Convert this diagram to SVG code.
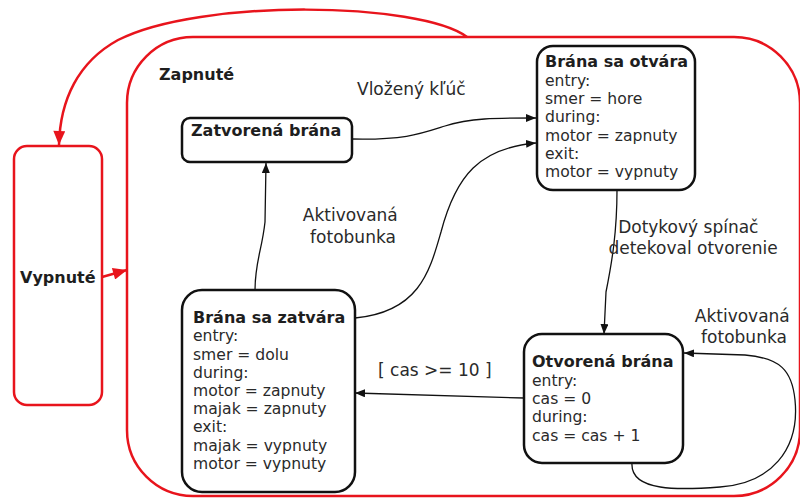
<svg xmlns="http://www.w3.org/2000/svg" width="800" height="498" viewBox="0 0 800 498">
  <defs>
    <marker id="arrow" viewBox="0 0 10 8" refX="10" refY="4" markerWidth="10" markerHeight="8" markerUnits="userSpaceOnUse" orient="auto">
      <path d="M0,0 L10,4 L0,8 Z" fill="#111"/>
    </marker>
    <marker id="arrowRed" viewBox="0 0 14 12" refX="14" refY="6" markerWidth="16" markerHeight="12" markerUnits="userSpaceOnUse" orient="auto">
      <path d="M0,0 L14,6 L0,12 Z" fill="#e8141c"/>
    </marker>
  </defs>
  <style>
    text { font-family: "DejaVu Sans", Verdana, sans-serif; fill: #2a2a2a; }
    .state { fill: #fff; stroke: #111; stroke-width: 2.5; }
    .super { fill: none; stroke: #e8141c; stroke-width: 2.5; }
    .title { font-weight: bold; font-size: 16px; fill: #1e1e1e; }
    .body { font-size: 15.6px; }
    .label { font-size: 17px; }
    .edge { fill: none; stroke: #111; stroke-width: 1.3; }
    .redEdge { fill: none; stroke: #e8141c; stroke-width: 2.5; }
  </style>

  <rect width="800" height="498" fill="#fff"/>

  <!-- Superstate: Zapnuté -->
  <g id="zapnute">
    <rect class="super" x="127" y="37" width="673" height="459" rx="66" ry="66"/>
    <text class="title" x="159" y="80">Zapnuté</text>
  </g>

  <!-- Superstate: Vypnuté -->
  <g id="vypnute">
    <rect class="super" x="14" y="146" width="88" height="259" rx="13" ry="13"/>
    <text class="title" x="20" y="283">Vypnuté</text>
  </g>

  <g id="zatvorena-brana">
    <rect class="state" x="182" y="118" width="170" height="44" rx="8" ry="8"/>
    <text class="title" x="191" y="136">Zatvorená brána</text>
  </g>

  <g id="brana-sa-otvara">
    <rect class="state" x="537" y="46" width="158" height="144" rx="16" ry="16"/>
    <text class="title" x="545" y="67">Brána sa otvára</text>
    <text class="body" x="545">
      <tspan x="545" y="85.5">entry:</tspan>
      <tspan x="545" y="104">smer = hore</tspan>
      <tspan x="545" y="122">during:</tspan>
      <tspan x="545" y="140.5">motor = zapnuty</tspan>
      <tspan x="545" y="158.5">exit:</tspan>
      <tspan x="545" y="177">motor = vypnuty</tspan>
    </text>
  </g>

  <g id="brana-sa-zatvara">
    <rect class="state" x="182" y="290" width="173" height="202" rx="20" ry="20"/>
    <text class="title" x="193" y="323">Brána sa zatvára</text>
    <text class="body" x="193">
      <tspan x="193" y="341">entry:</tspan>
      <tspan x="193" y="359.5">smer = dolu</tspan>
      <tspan x="193" y="377.5">during:</tspan>
      <tspan x="193" y="396">motor = zapnuty</tspan>
      <tspan x="193" y="414">majak = zapnuty</tspan>
      <tspan x="193" y="432">exit:</tspan>
      <tspan x="193" y="450.5">majak = vypnuty</tspan>
      <tspan x="193" y="468.5">motor = vypnuty</tspan>
    </text>
  </g>

  <g id="otvorena-brana">
    <rect class="state" x="524" y="334" width="159" height="129" rx="18" ry="18"/>
    <text class="title" x="532" y="367">Otvorená brána</text>
    <text class="body" x="532">
      <tspan x="532" y="385.5">entry:</tspan>
      <tspan x="532" y="404">cas = 0</tspan>
      <tspan x="532" y="422">during:</tspan>
      <tspan x="532" y="440.5">cas = cas + 1</tspan>
    </text>
  </g>

  <!-- Transitions -->
  <g id="connectors">
    <path class="redEdge" d="M467,37 C420,2 200,-2 118,40 C78,62 60,100 59,145" marker-end="url(#arrowRed)"/>
    <path class="redEdge" d="M102,277 L127,270" marker-end="url(#arrowRed)"/>

    <path class="edge" d="M352,139 C405,140 420,134 445,126 C470,118 495,118 536,118" marker-end="url(#arrow)"/>
    <path class="edge" d="M355,318 C420,312 430,270 441,232 C456,175 480,148 536,143" marker-end="url(#arrow)"/>
    <path class="edge" d="M255,290 C255,262 262,250 265,222 L266,163" marker-end="url(#arrow)"/>
    <path class="edge" d="M617,190 C617,232 612,262 606,292 L604,334" marker-end="url(#arrow)"/>
    <path class="edge" d="M524,398 L355,393" marker-end="url(#arrow)"/>
    <path class="edge" d="M632,463 C630,492 680,490 720,487 C770,484 800,450 795,400 C792,370 780,358 745,355 L684,353" marker-end="url(#arrow)"/>

    <text class="label" x="357" y="95">Vložený kľúč</text>
    <text class="label" text-anchor="middle">
      <tspan x="353" y="221">Aktivovaná</tspan>
      <tspan x="353" y="243">fotobunka</tspan>
    </text>
    <text class="label" text-anchor="middle" font-size="16.8">
      <tspan x="691" y="233">Dotykový spínač</tspan>
      <tspan x="693" y="254">detekoval otvorenie</tspan>
    </text>
    <text class="label" text-anchor="middle">
      <tspan x="745" y="322">Aktivovaná</tspan>
      <tspan x="744" y="343">fotobunka</tspan>
    </text>
    <text class="label" x="378" y="376">[ cas &gt;= 10 ]</text>
  </g>
</svg>
